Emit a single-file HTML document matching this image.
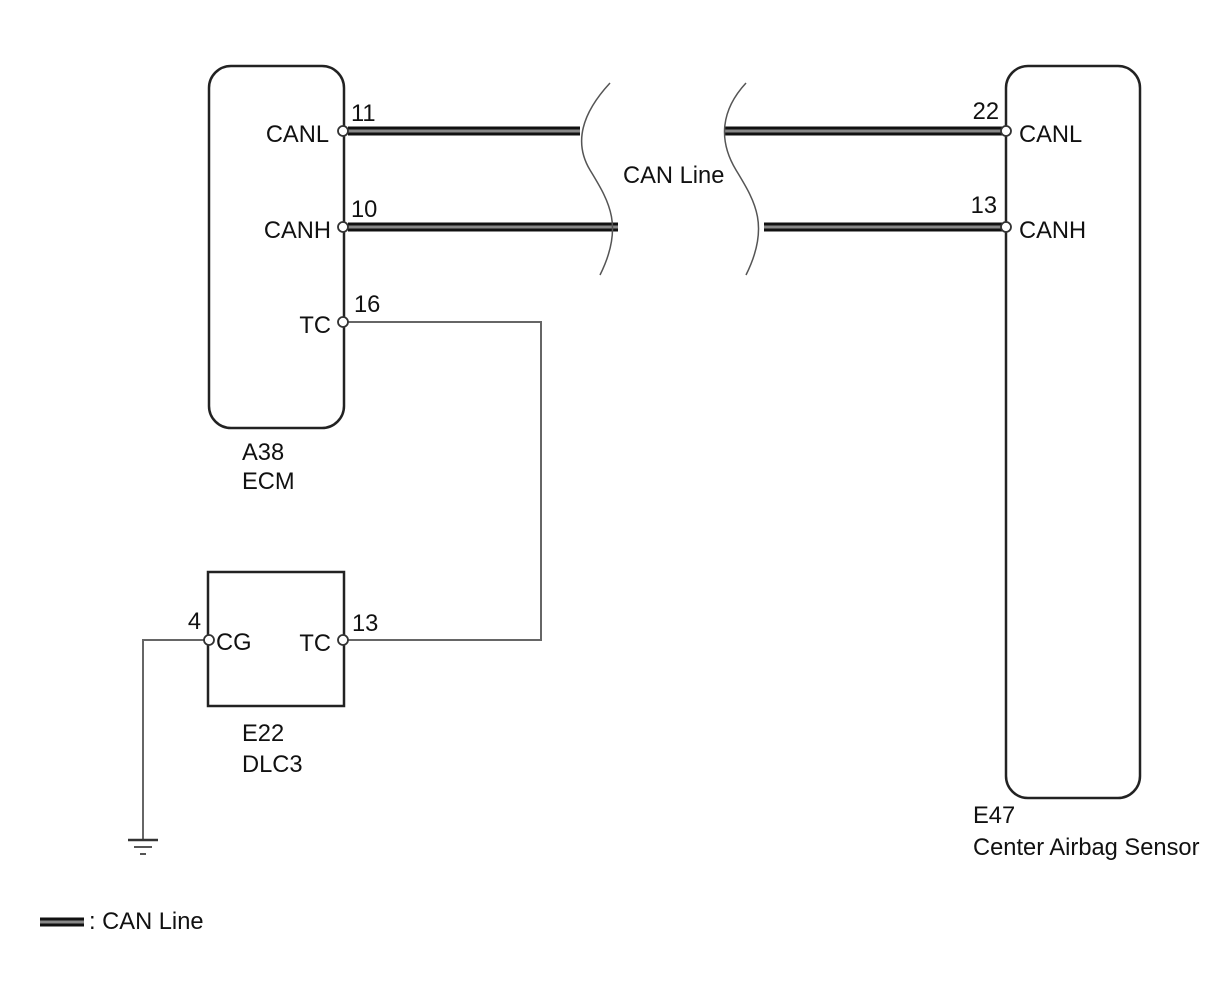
<!DOCTYPE html>
<html><head><style>body{margin:0;background:#fff}svg{display:block}text{font-family:"Liberation Sans",Arial,sans-serif;font-size:23.7px;fill:#111}</style></head><body>
<svg width="1210" height="986" viewBox="0 0 1210 986">
<g fill="none" stroke="#222" stroke-width="2.5">
<rect x="209" y="66" width="135" height="362" rx="22"/>
<rect x="1006" y="66" width="134" height="732" rx="22"/>
<rect x="208" y="572" width="136" height="134"/>
</g>
<g stroke="#666" stroke-width="2" fill="none">
<polyline points="348,322 541,322 541,640 348,640"/>
<polyline points="204,640 143,640 143,840"/>
</g>
<g stroke="#333" stroke-width="2.5"><line x1="128" y1="840" x2="158" y2="840"/></g>
<g stroke="#555" stroke-width="2"><line x1="134" y1="847" x2="152" y2="847"/><line x1="140" y1="854" x2="146" y2="854"/></g>
<g stroke="#111" stroke-width="9">
<line x1="348" y1="131" x2="580" y2="131"/><line x1="348" y1="227" x2="618" y2="227"/>
<line x1="724" y1="131" x2="1002" y2="131"/><line x1="764" y1="227" x2="1002" y2="227"/>
<line x1="40" y1="922" x2="84" y2="922"/>
</g>
<g stroke="#888" stroke-width="3">
<line x1="348" y1="131" x2="580" y2="131"/><line x1="348" y1="227" x2="618" y2="227"/>
<line x1="724" y1="131" x2="1002" y2="131"/><line x1="764" y1="227" x2="1002" y2="227"/>
<line x1="40" y1="922" x2="84" y2="922"/>
</g>
<g fill="none" stroke="#555" stroke-width="1.5">
<path d="M610,83 C585,110 572,140 590,170 C608,200 625,225 600,275"/>
<path d="M746,83 C721,110 718,140 736,170 C754,200 771,225 746,275"/>
</g>
<g fill="#fff" stroke="#333" stroke-width="1.8">
<circle cx="343" cy="131" r="5"/><circle cx="343" cy="227" r="5"/><circle cx="343" cy="322" r="5"/>
<circle cx="1006" cy="131" r="5"/><circle cx="1006" cy="227" r="5"/>
<circle cx="209" cy="640" r="5"/><circle cx="343" cy="640" r="5"/>
</g>
<g text-anchor="end">
<text x="329" y="142">CANL</text><text x="331" y="238">CANH</text><text x="331" y="333">TC</text>
<text x="331" y="651">TC</text><text x="201" y="629">4</text>
<text x="999" y="119">22</text><text x="997" y="213">13</text>
</g>
<text x="351" y="121">11</text>
<text x="351" y="217">10</text>
<text x="354" y="312">16</text>
<text x="242" y="460">A38</text><text x="242" y="489">ECM</text>
<text x="623" y="183">CAN Line</text>
<text x="1019" y="142">CANL</text>
<text x="1019" y="238">CANH</text>
<text x="973" y="823">E47</text><text x="973" y="855">Center Airbag Sensor</text>
<text x="216" y="650">CG</text>
<text x="352" y="631">13</text>
<text x="242" y="741">E22</text><text x="242" y="772">DLC3</text>
<text x="89" y="929">: CAN Line</text>
</svg>
</body></html>
